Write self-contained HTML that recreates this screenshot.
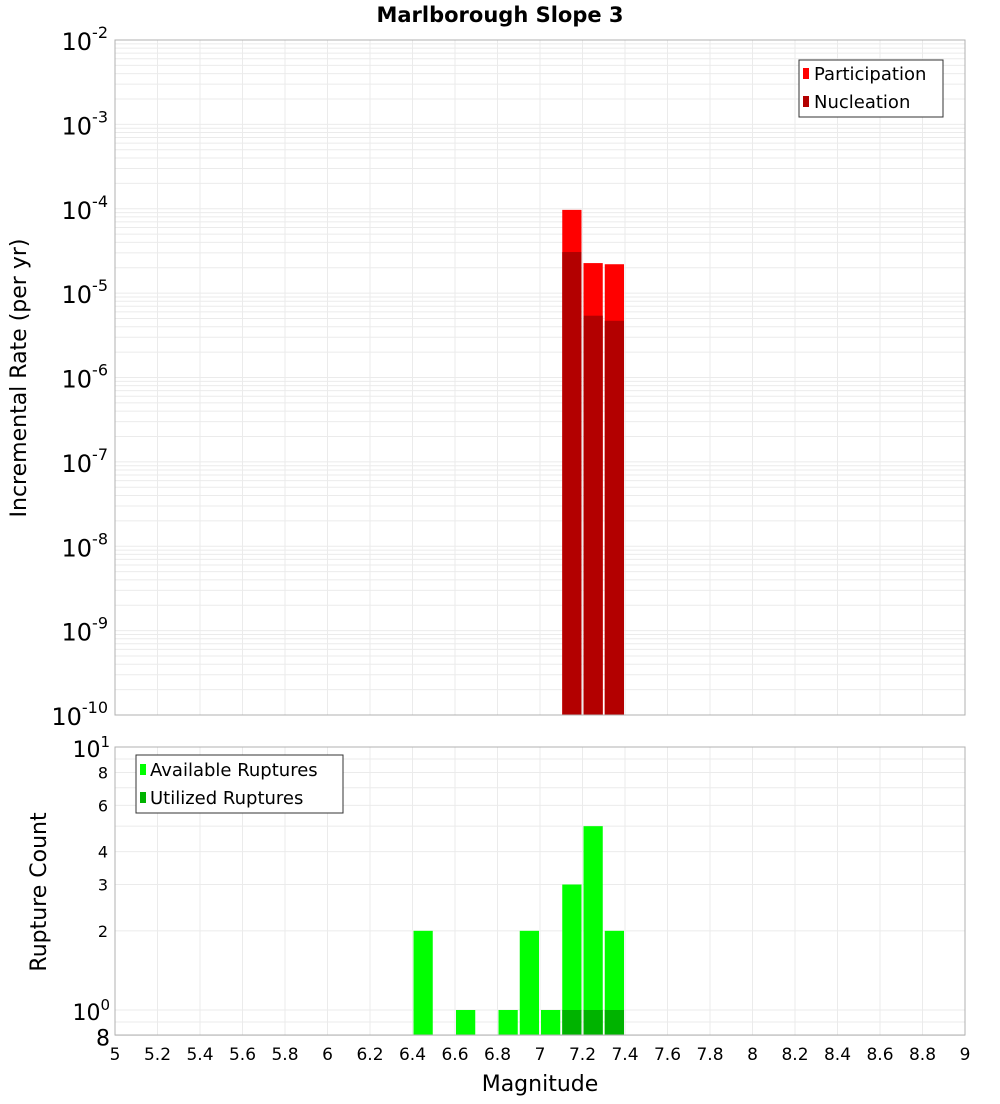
<!DOCTYPE html>
<html><head><meta charset="utf-8"><style>
body{margin:0;background:#fff;font-family:"DejaVu Sans","Liberation Sans",sans-serif}
svg text{font-family:"DejaVu Sans","Liberation Sans",sans-serif}
</style></head><body>
<svg id="chart" width="1000" height="1100" xmlns="http://www.w3.org/2000/svg"></svg>
<script>
const binStarts=[7.1,7.2,7.3];
const participation=[9.7e-5,2.27e-5,2.2e-5];
const nucleation=[3.07e-5,5.4e-6,4.7e-6];
const countBins=[6.4,6.6,6.8,6.9,7.0,7.1,7.2,7.3];
const available=[2,1,1,2,1,3,5,2];
const utilizedBins=[7.1,7.2,7.3];
const utilized=[1,1,1];
const xTicks=[5,5.2,5.4,5.6,5.8,6,6.2,6.4,6.6,6.8,7,7.2,7.4,7.6,7.8,8,8.2,8.4,8.6,8.8,9];
const yTopExps=[-2,-3,-4,-5,-6,-7,-8,-9,-10];
const yBotTicks=[0.8,1,2,3,4,6,8,10];
const yBotLabels=["8","10⁰","2","3","4","6","8","10¹"];

const NS="http://www.w3.org/2000/svg";
const svg=document.getElementById('chart');
function el(t,a,p){const e=document.createElementNS(NS,t);for(const k in a)e.setAttribute(k,a[k]);(p||svg).appendChild(e);return e;}
const L=115,R=965;
const x=m=>L+(m-5)/4*(R-L);
const T1=40,B1=715;
const y1=v=>T1+(-2-Math.log10(v))*(B1-T1)/8;
const T2=747,B2=1035;
const y2=v=>1010-Math.log10(v)*263;

// title
let t=el('text',{x:500,y:22,'text-anchor':'middle','font-size':21,'font-weight':'bold'});t.textContent='Marlborough Slope 3';


// top grid
let g=el('g',{});
for(let e=-10;e<-2;e++)for(let k=1;k<10;k++){const v=k*Math.pow(10,e);el('line',{x1:L,x2:R,y1:y1(v),y2:y1(v),stroke:'#ebebeb'},g);}
xTicks.forEach(m=>el('line',{x1:x(m),x2:x(m),y1:T1,y2:B1,stroke:'#ebebeb'},g));
// top bars
binStarts.forEach((b,i)=>{
 let r=el('rect',{x:x(b)+1,y:y1(participation[i]),width:x(b+0.1)-x(b)-2,height:B1-y1(participation[i]),fill:'#ff0000'});
 
 r=el('rect',{x:x(b)+1,y:y1(nucleation[i]),width:x(b+0.1)-x(b)-2,height:B1-y1(nucleation[i]),fill:'#b30000'});
 
});
el('rect',{x:L,y:T1,width:R-L,height:B1-T1,fill:'none',stroke:'#b0b0b0'});
yTopExps.forEach(e=>{const tx=el('text',{x:108,y:y1(Math.pow(10,e))+10,'text-anchor':'end','font-size':24});
 
 tx.innerHTML='10<tspan dy="-12" font-size="16">'+e+'</tspan>';});
t=el('text',{x:0,y:0,'font-size':22,'text-anchor':'middle',transform:'translate(26,378) rotate(-90)'});t.textContent='Incremental Rate (per yr)';

// top legend
g=el('g',{});
el('rect',{x:799,y:60,width:144,height:57,fill:'#fff',stroke:'#333'},g);
el('rect',{x:803,y:68,width:6,height:11,fill:'#ff0000'},g);
t=el('text',{x:814,y:80,'font-size':18},g);t.textContent='Participation';
el('rect',{x:803,y:96,width:6,height:11,fill:'#b30000'},g);
t=el('text',{x:814,y:108,'font-size':18},g);t.textContent='Nucleation';

// bottom grid
g=el('g',{});
[0.8,0.9,1,2,3,4,5,6,7,8,9].forEach(v=>el('line',{x1:L,x2:R,y1:y2(v),y2:y2(v),stroke:'#ebebeb'},g));
xTicks.forEach(m=>el('line',{x1:x(m),x2:x(m),y1:T2,y2:B2,stroke:'#ebebeb'},g));
countBins.forEach((b,i)=>{const r=el('rect',{x:x(b)+1,y:y2(available[i]),width:x(b+0.1)-x(b)-2,height:B2-y2(available[i]),fill:'#00ff00'});
 });
utilizedBins.forEach((b,i)=>{const r=el('rect',{x:x(b)+1,y:y2(utilized[i]),width:x(b+0.1)-x(b)-2,height:B2-y2(utilized[i]),fill:'#00b300'});
 });
el('rect',{x:L,y:T2,width:R-L,height:B2-T2,fill:'none',stroke:'#b0b0b0'});
yBotTicks.forEach((v,i)=>{const big=(v===1||v===10||v===0.8);
 const tx=el('text',{x:big?110:108,y:y2(v)+(big?10:6),'text-anchor':'end','font-size':big?22:16});
 
 const s=yBotLabels[i];
 if(s.startsWith('10'))tx.innerHTML='10<tspan dy="-10" font-size="15">'+(s==='10⁰'?'0':'1')+'</tspan>';else tx.textContent=s;});
t=el('text',{x:0,y:0,'font-size':22,'text-anchor':'middle',transform:'translate(46,892) rotate(-90)'});t.textContent='Rupture Count';

g=el('g',{});
el('rect',{x:136,y:755,width:207,height:58,fill:'#fff',stroke:'#333'},g);
el('rect',{x:140,y:764,width:6,height:11,fill:'#00ff00'},g);
t=el('text',{x:150,y:776,'font-size':18},g);t.textContent='Available Ruptures';
el('rect',{x:140,y:792,width:6,height:11,fill:'#00b300'},g);
t=el('text',{x:150,y:804,'font-size':18},g);t.textContent='Utilized Ruptures';
xTicks.forEach(m=>{const tx=el('text',{x:x(m),y:1060,'text-anchor':'middle','font-size':17});tx.textContent=String(m);
 });
t=el('text',{x:540,y:1091,'text-anchor':'middle','font-size':22});t.textContent='Magnitude';

</script>
</body></html>
